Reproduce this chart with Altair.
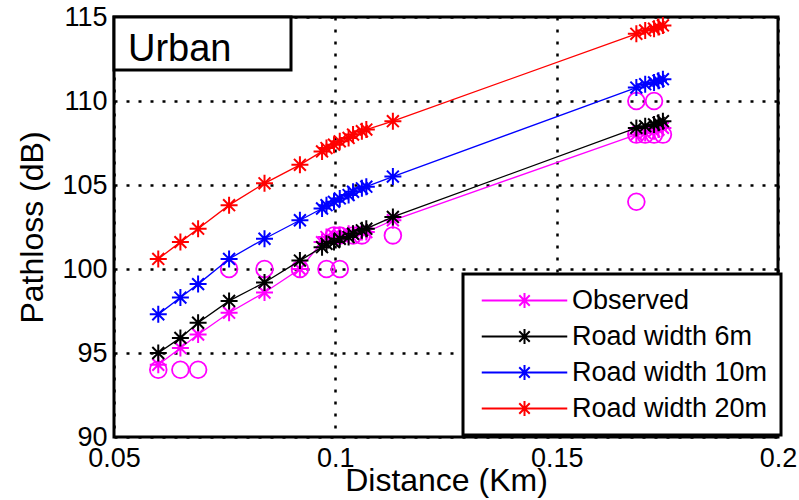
import altair as alt
import pandas as pd

# ---------------- data ----------------
distance_km = [0.060, 0.065, 0.069, 0.076, 0.084, 0.092, 0.097, 0.098, 0.0997, 0.101,
               0.103, 0.104, 0.106, 0.107, 0.113, 0.168, 0.170, 0.172, 0.173, 0.174]
observed_mean_db = [94.3, 95.3, 96.1, 97.4, 98.6, 100.0, 101.6, 101.9, 102.0, 102.0,
                    102.1, 102.1, 102.2, 102.2, 102.9, 108.0, 108.1, 108.2, 108.3, 108.4]
road6_db = [95.0, 95.9, 96.8, 98.1, 99.2, 100.5, 101.3, 101.5, 101.6, 101.8,
            101.9, 102.1, 102.3, 102.4, 103.1, 108.4, 108.5, 108.6, 108.7, 108.8]
road10_db = [97.3, 98.3, 99.1, 100.6, 101.8, 102.9, 103.6, 103.8, 104.0, 104.2,
             104.4, 104.6, 104.8, 104.9, 105.5, 110.8, 111.0, 111.1, 111.2, 111.3]
road20_db = [100.6, 101.6, 102.4, 103.8, 105.1, 106.2, 107.0, 107.2, 107.4, 107.6,
             107.8, 108.0, 108.2, 108.3, 108.8, 114.0, 114.2, 114.3, 114.4, 114.5]

obs_distance_km = [0.060, 0.065, 0.069, 0.076, 0.084, 0.092, 0.098, 0.101, 0.0997, 0.101,
                   0.104, 0.106, 0.113, 0.168, 0.172, 0.168, 0.170, 0.172, 0.174, 0.168]
obs_pathloss_db = [94, 94, 94, 100, 100, 100, 100, 100, 102, 102,
                   102, 102, 102, 110, 110, 108, 108, 108, 108, 104]

series_names = ["Observed", "Road width 6m", "Road width 10m", "Road width 20m"]
series_colors = ["#ff00ff", "#000000", "#0000ff", "#ff0000"]
x_ticks = [0.05, 0.1, 0.15, 0.2]
y_ticks = [90, 95, 100, 105, 110, 115]
panel_label = ["Urban"]

# ---------------- tables ----------------
rows = []
for name, vals in zip(series_names, [observed_mean_db, road6_db, road10_db, road20_db]):
    for d, v in zip(distance_km, vals):
        rows.append({"distance": d, "pathloss": v, "series": name})
df = pd.DataFrame(rows)
df_obs_line = df[df["series"] == "Observed"]
df_models = df[df["series"] != "Observed"]
obs_df = pd.DataFrame({"distance": obs_distance_km, "pathloss": obs_pathloss_db})
label_df = pd.DataFrame({"label": panel_label})

FONT = "Liberation Sans"
STAR = "M0,-1L0,1M-1,0L1,0M-0.7,-0.7L0.7,0.7M-0.7,0.7L0.7,-0.7"
LEG_SYMBOL = "M-5.7,0L5.7,0" + STAR

x_enc = alt.X(
    "distance:Q",
    scale=alt.Scale(domain=[0.05, 0.2], nice=False, zero=False),
    axis=alt.Axis(values=x_ticks, format="~g", title="Distance (Km)",
                  labelPadding=8, titleY=53, titleBaseline="alphabetic"),
)
y_enc = alt.Y(
    "pathloss:Q",
    scale=alt.Scale(domain=[90, 115], nice=False, zero=False),
    axis=alt.Axis(values=y_ticks, title="Pathloss (dB)", labelPadding=7,
                  titleX=-72, titleY=210, titleAngle=270,
                  titleBaseline="alphabetic", titleAlign="center"),
)
legend = alt.Legend(
    title=None, orient="none", legendX=349, legendY=257,
    symbolType=LEG_SYMBOL, symbolSize=225, symbolStrokeWidth=2,
    symbolOffset=35, labelOffset=34, labelFontSize=27, labelFont=FONT,
    labelColor="black", labelLimit=400, padding=13, rowPadding=8,
    fillColor="white", strokeColor="black",
)
color_enc = alt.Color("series:N",
                      scale=alt.Scale(domain=series_names, range=series_colors),
                      legend=legend)

obs_line = alt.Chart(df_obs_line).mark_line(strokeWidth=1.3).encode(x=x_enc, y=y_enc, color=color_enc)
obs_stars = alt.Chart(df_obs_line).mark_point(
    shape=STAR, filled=False, size=289, strokeWidth=2, opacity=1
).encode(x=x_enc, y=y_enc, color=color_enc)
circles = alt.Chart(obs_df).mark_point(
    shape="circle", filled=False, size=280, strokeWidth=1.8, opacity=1, color="#ff00ff"
).encode(x=x_enc, y=y_enc)
model_lines = alt.Chart(df_models).mark_line(strokeWidth=1.3).encode(x=x_enc, y=y_enc, color=color_enc)
model_stars = alt.Chart(df_models).mark_point(
    shape=STAR, filled=False, size=289, strokeWidth=2, opacity=1
).encode(x=x_enc, y=y_enc, color=color_enc)

urban_box = alt.Chart(label_df).mark_rect(fill="white", stroke="black", strokeWidth=3).encode(
    x=alt.value(0), x2=alt.value(177), y=alt.value(0), y2=alt.value(53)
)
urban_text = alt.Chart(label_df).mark_text(
    align="left", baseline="alphabetic", fontSize=38, font=FONT, color="black"
).encode(x=alt.value(14), y=alt.value(44), text="label:N")

chart = alt.layer(
    obs_line, obs_stars, circles, model_lines, model_stars, urban_box, urban_text
).properties(
    width=664, height=420,
    autosize=alt.AutoSizeParams(type="none"),
    padding={"left": 114, "top": 17, "right": 21, "bottom": 63},
    background="white",
).configure_view(
    stroke="black", strokeWidth=3
).configure_axis(
    grid=True, gridColor="black", gridDash=[3, 9], gridWidth=2.5, gridOpacity=1,
    domain=False, ticks=False, tickSize=0, labelFlush=False,
    labelFont=FONT, labelFontSize=27, labelColor="black",
    titleFont=FONT, titleFontSize=32, titleFontWeight="normal", titleColor="black",
).configure_legend(
    strokeWidth=3
)

chart.save("out.html", embed_options={"renderer": "svg", "actions": False})
